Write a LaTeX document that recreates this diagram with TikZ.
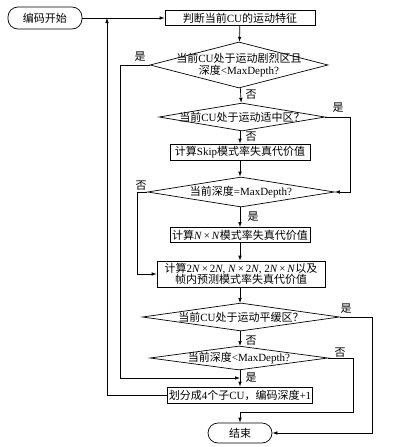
\documentclass[tikz,border=0pt]{standalone}
\usepackage{fontspec}
\setmainfont{Liberation Serif}
\newfontfamily\cjk{Noto Sans CJK SC}
\newcommand\zh[1]{{\cjk #1}}
\usetikzlibrary{arrows.meta,shapes.geometric}
\begin{document}
\begin{tikzpicture}[x=1pt,y=-1pt,
  every node/.style={font=\fontsize{11}{12.5}\selectfont, inner sep=0pt},
  line/.style={draw=black, line width=0.7pt},
  arr/.style={line, -{Latex[length=5pt,width=3.6pt]}},
  proc/.style={draw=black, line width=0.7pt, rectangle, align=center},
  term/.style={draw=black, line width=0.7pt, rectangle, rounded corners=10pt},
  dec/.style={draw=black, line width=0.7pt, diamond, inner sep=0pt},
  lab/.style={font=\fontsize{11}{12.5}\selectfont}
]
\useasboundingbox (0,0) rectangle (400,447);
% nodes
\node[term, minimum width=74pt, minimum height=22pt] (start) at (45,18) {\zh{编码开始}};
\node[proc, minimum width=150pt, minimum height=15pt] (b1) at (240,18) {\zh{判断当前}CU\zh{的运动特征}};
\node[dec, minimum width=178pt, minimum height=46pt, label={[align=center, lab]center:\zh{当前}CU\zh{处于运动剧烈区且}\\\zh{深度}{<}MaxDepth?}] (d1) at (239,65) {};
\node[dec, minimum width=166pt, minimum height=28pt, label={[lab]center:\zh{当前}CU\zh{处于运动适中区？}}] (d2) at (242,117) {};
\node[proc, minimum width=140pt, minimum height=16pt] (skip) at (240,152) {\zh{计算}Skip\zh{模式率失真代价值}};
\node[dec, minimum width=187pt, minimum height=30pt, label={[lab]center:\zh{当前深度}=MaxDepth?}] (d3) at (241,192) {};
\node[proc, minimum width=140pt, minimum height=15pt] (nn) at (240,235) {\zh{计算}\textit{N}\,×\,\textit{N}\zh{模式率失真代价值}};
\node[proc, minimum width=168pt, minimum height=26pt] (b2n) at (241,274) {\zh{计算}2\textit{N}\,×\,2\textit{N}, \textit{N}\,×\,2\textit{N}, 2\textit{N}\,×\,\textit{N}\zh{以及}\\[-1.5pt]\zh{帧内预测模式率失真代价值}};
\node[dec, minimum width=197pt, minimum height=28pt, label={[lab]center:\zh{当前}CU\zh{处于运动平缓区？}}] (d4) at (241,317) {};
\node[dec, minimum width=178pt, minimum height=24pt, label={[lab]center:\zh{当前深度}{<}MaxDepth?}] (d5) at (239,358) {};
\node[proc, minimum width=145pt, minimum height=16pt] (div) at (240,395) {\zh{划分成}4\zh{个子}CU\zh{，编码深度}+1};
\node[term, minimum width=64pt, minimum height=20pt] (end) at (240,433) {\zh{结束}};
% helper coordinates
\coordinate (m) at (240,378);
\coordinate (up) at (107,18);
\coordinate (j5) at (240,412);
% main flow
\draw[arr] (start) -- (b1);
\draw[arr] (b1) -- (d1);
\draw[arr] (d1) -- (d2);
\draw[arr] (d2.south -| skip.north) -- (skip);
\draw[arr] (skip) -- (skip.south |- d3.north);
\draw[arr] (d3.south -| nn.north) -- (nn);
\draw[arr] (nn) -- (nn.south |- b2n.north);
\draw[arr] (b2n.south -| 240,0) -- (240,303);
\draw[arr] (240,331) -- (240,346);
\draw[arr] (240,370) -- (div.north);
% loops
\draw[arr] (d1.west) -- (120,65) -- (120,378) -- (m);
\draw[arr] (div.west) -- (107,395) -- (up);
\draw[arr] (d2.east) -- (350,117) -- (350,192) -- (d3.east);
\draw[arr] (d3.west) -- (137,192) -- (137,274) -- (b2n.west);
\draw[arr] (d4.east) -- (372,317) -- (372,433) -- (end.east);
\draw[line] (d5.east) -- (353,358) -- (353,412) -- (j5);
\draw[arr] (j5) -- (end.north);
% labels
\node[lab] (l1) at (140,57) {\zh{是}};
\node[lab] (l2) at (251,95) {\zh{否}};
\node[lab] (l3) at (338,108) {\zh{是}};
\node[lab] (l4) at (251,137) {\zh{否}};
\node[lab] (l5) at (141,186) {\zh{否}};
\node[lab] (l6) at (253,217) {\zh{是}};
\node[lab] (l7) at (346,309) {\zh{是}};
\node[lab] (l8) at (251,341) {\zh{否}};
\node[lab] (l9) at (340,353) {\zh{否}};
\node[lab] (l10) at (251,378) {\zh{是}};
\end{tikzpicture}
\end{document}
